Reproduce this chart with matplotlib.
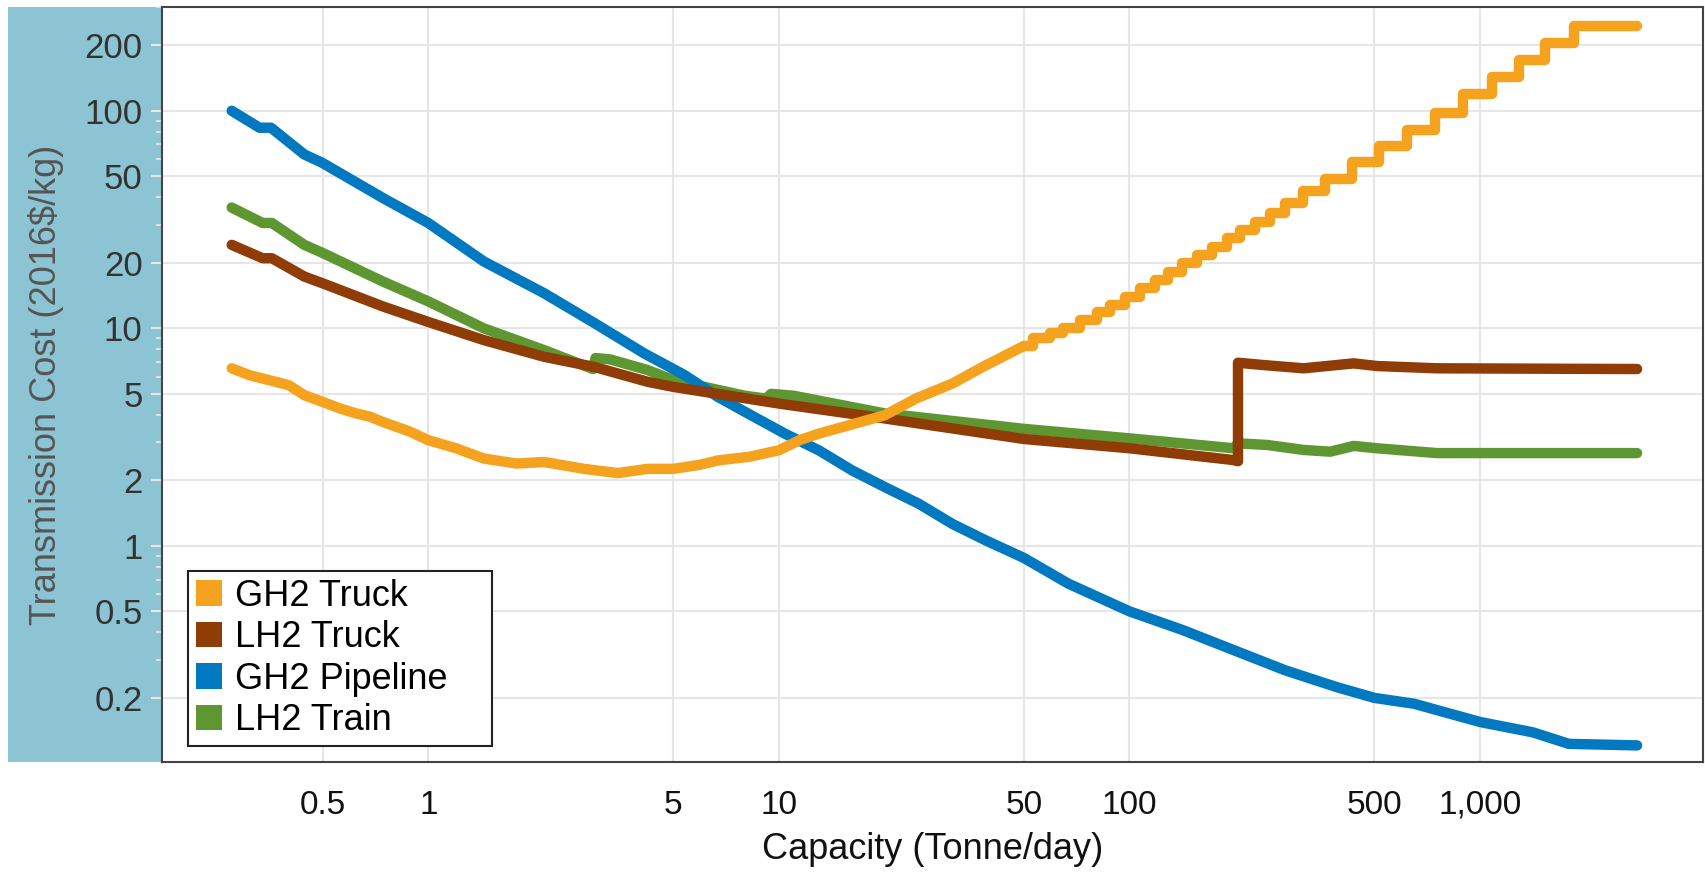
import matplotlib.pyplot as plt
from matplotlib.patches import Patch, Rectangle
from matplotlib.ticker import LogLocator, NullLocator

plt.rcParams['font.family'] = ['Liberation Sans', 'DejaVu Sans']

# capacidades (Tonne/day) y costos (2016$/kg)
gh2_truck_x = [0.275, 0.308, 0.40, 0.443, 0.5, 0.56, 0.624, 0.68, 0.743, 0.887, 1.0, 1.2,
               1.44, 1.79, 2.14, 2.78, 3.47, 4.22, 5.0, 5.96, 6.7, 8.26, 10, 11.5, 13, 16,
               20, 24.7, 31.3, 38.3, 50, 53, 59.4, 64.8, 72.3, 80.7, 88, 97, 107, 118, 129,
               141, 156, 172, 190, 207, 228, 252, 278, 312, 361, 430, 516, 621, 745, 892,
               1081, 1288, 1535, 1849, 2805]
gh2_truck_y = [6.55, 6.1, 5.48, 4.93, 4.59, 4.28, 4.06, 3.93, 3.71, 3.35, 3.06, 2.81,
               2.52, 2.39, 2.43, 2.26, 2.16, 2.26, 2.26, 2.36, 2.47, 2.57, 2.75, 3.07, 3.28, 3.6,
               3.98, 4.77, 5.58, 6.67, 8.3, 9.0, 9.5, 10.0, 10.9, 11.9, 12.8, 14.0, 15.3, 16.7, 18.2,
               19.9, 21.7, 23.7, 25.9, 28.3, 30.9, 33.8, 37.5, 42.8, 48.5, 58.3, 69, 82, 98, 119,
               143.5, 172, 205, 245, 245]

lh2_truck_x = [0.275, 0.337, 0.358, 0.443, 0.5, 0.743, 1.0, 1.44, 2.14, 2.97, 4.22, 5.0,
               10, 20.1, 50, 100, 198, 204, 204, 241, 314, 436, 508, 753, 2805]
lh2_truck_y = [24.2, 21, 21, 17.3, 16.1, 12.6, 10.7, 8.83, 7.4, 6.65, 5.68, 5.38,
               4.51, 3.85, 3.1, 2.81, 2.48, 2.45, 6.95, 6.78, 6.55, 6.9, 6.71, 6.55, 6.5]

gh2_pipe_x = [0.275, 0.33, 0.356, 0.443, 0.5, 0.743, 1.0, 1.44, 2.14, 2.97, 4.13,
              5.38, 6.7, 8.35, 10.4, 13, 16.2, 20.1, 25.1, 31.3, 38.9, 50, 67, 100, 142,
              199, 278, 391, 500, 649, 1000, 1413, 1791, 2805]
gh2_pipe_y = [100, 83.6, 83.6, 63, 57.5, 39.7, 30.5, 20.3, 14.5, 10.6, 7.67,
              6.1, 4.84, 3.98, 3.28, 2.75, 2.22, 1.86, 1.56, 1.26, 1.06, 0.88, 0.67, 0.5, 0.41,
              0.331, 0.268, 0.224, 0.2, 0.188, 0.155, 0.139, 0.123, 0.121]

lh2_train_x = [0.275, 0.337, 0.358, 0.443, 0.5, 0.743, 1.0, 1.44, 2.14, 2.95, 3.0, 3.3,
               4.22, 5.0, 8.0, 9.2, 9.5, 11, 20.1, 50, 100, 198, 204, 247, 314, 374, 436,
               508, 753, 2805]
lh2_train_y = [35.9, 30.5, 30.5, 24.2, 22.2, 16.4, 13.3, 10, 7.94, 6.5, 7.3, 7.2,
               6.43, 5.78, 4.9, 4.75, 5.0, 4.9, 4.06, 3.45, 3.12, 2.81, 2.96, 2.91, 2.76, 2.71, 2.88,
               2.81, 2.67, 2.67]

series_names = ['GH2 Truck', 'LH2 Truck', 'GH2 Pipeline', 'LH2 Train']
series_colors = ['#F5A31F', '#903C06', '#0079C1', '#5E9732']

x_ticks = [0.5, 1, 5, 10, 50, 100, 500, 1000]
x_labels = ['0.5', '1', '5', '10', '50', '100', '500', '1,000']
y_ticks = [0.2, 0.5, 1, 2, 5, 10, 20, 50, 100, 200]
y_labels = ['0.2', '0.5', '1', '2', '5', '10', '20', '50', '100', '200']

W, H = 1706, 872
fig = plt.figure(figsize=(W / 100, H / 100), dpi=100)
ax = fig.add_axes([162 / W, 1 - 762 / H, (1703 - 162) / W, (762 - 7) / H])

# franja azul detras del titulo del eje y
fig.add_artist(Rectangle((8 / W, 1 - 762 / H), (162 - 8) / W, (762 - 7) / H,
                         transform=fig.transFigure, facecolor='#8DC4D3',
                         edgecolor='none', zorder=-1))

lw = 7.5
ax.plot(lh2_train_x, lh2_train_y, color=series_colors[3], lw=lw, solid_capstyle='round')
ax.plot(gh2_pipe_x, gh2_pipe_y, color=series_colors[2], lw=lw, solid_capstyle='round')
ax.plot(lh2_truck_x, lh2_truck_y, color=series_colors[1], lw=lw, solid_capstyle='round')
# el camion GH2 es curva suave hasta ~50 t/dia y escalones grandes despues
k = gh2_truck_x.index(50)
ax.plot(gh2_truck_x[:k + 1], gh2_truck_y[:k + 1], color=series_colors[0], lw=lw,
        solid_capstyle='round')
ax.plot(gh2_truck_x[k:], gh2_truck_y[k:], color=series_colors[0], lw=lw,
        solid_capstyle='round', drawstyle='steps-post')

ax.set_xscale('log')
ax.set_yscale('log')
ax.set_xlim(0.174, 4325)
ax.set_ylim(0.1015, 300)

ax.set_xticks(x_ticks)
ax.set_xticklabels(x_labels)
ax.xaxis.set_minor_locator(NullLocator())
ax.set_yticks(y_ticks)
ax.set_yticklabels(y_labels)
ax.yaxis.set_minor_locator(LogLocator(base=10, subs=range(2, 10)))

ax.tick_params(axis='x', length=0, pad=20, labelsize=24, labelcolor='#111111')
ax.tick_params(axis='y', which='major', direction='out', length=8, width=1.5,
               color='#e8e8e8', pad=6, labelsize=25, labelcolor='#333333')
ax.tick_params(axis='y', which='minor', direction='out', length=4, width=1.2,
               color='#e8e8e8')

ax.grid(True, which='major', color='#e6e6e6', lw=1.5)
ax.set_axisbelow(True)
for s in ax.spines.values():
    s.set_color('#444444')
    s.set_linewidth(1.5)

ax.set_xlabel('Capacity (Tonne/day)', fontsize=26, color='#111111', labelpad=8)
ax.set_ylabel('Transmission Cost (2016$/kg)', fontsize=26, color='#555555')
ax.yaxis.set_label_coords(-0.0636, 0.5)

handles = [Patch(facecolor=c, edgecolor='none', label=n)
           for n, c in zip(series_names, series_colors)]
leg = ax.legend(handles=handles, loc='lower left', mode='expand',
                bbox_to_anchor=(26 / 1541, 16 / 755, 304 / 1541, 0.2),
                borderaxespad=0, fontsize=26, frameon=True, fancybox=False,
                edgecolor='#222222', framealpha=1, handlelength=0.72, handleheight=0.72,
                handletextpad=0.35, labelspacing=0.18, borderpad=0.22)
leg.get_frame().set_linewidth(1.5)

fig.savefig('out.png', dpi=100)
